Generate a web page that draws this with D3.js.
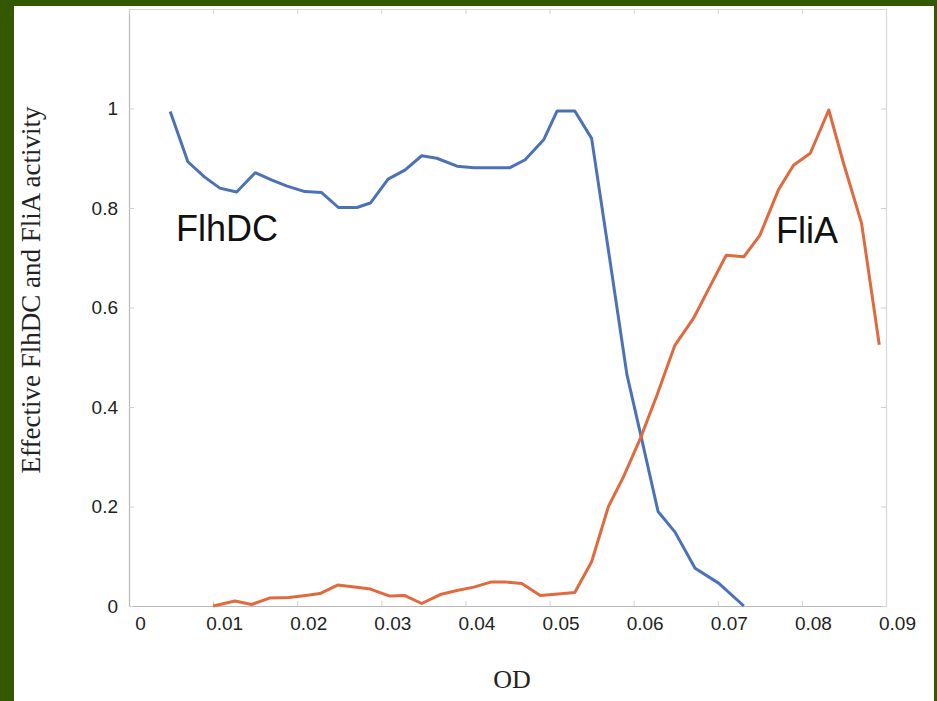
<!DOCTYPE html>
<html>
<head>
<meta charset="utf-8">
<script src="https://cdn.jsdelivr.net/npm/d3@7"></script>
<style>
  html, body { margin: 0; padding: 0; background: #335800; }
  svg { display: block; }
</style>
</head>
<body>
<div id="chart"></div>
<script>
// FlhDC activity vs OD
const flhdcOD = [0.0049, 0.0070, 0.0090, 0.0108, 0.0128, 0.0150, 0.0170, 0.0188, 0.0209, 0.0229,
                 0.0249, 0.0271, 0.0287, 0.0308, 0.0328, 0.0348, 0.0366, 0.0390, 0.0410, 0.0430,
                 0.0453, 0.0471, 0.0493, 0.0509, 0.0530, 0.0550, 0.0570, 0.0592, 0.0608, 0.0629,
                 0.0649, 0.0673, 0.0701, 0.0731];
const flhdcVal = [0.994, 0.893, 0.862, 0.840, 0.832, 0.871, 0.856, 0.844, 0.833, 0.831,
                  0.801, 0.801, 0.810, 0.858, 0.876, 0.905, 0.900, 0.884, 0.881, 0.881,
                  0.881, 0.897, 0.937, 0.995, 0.995, 0.940, 0.715, 0.465, 0.347, 0.190,
                  0.149, 0.076, 0.046, 0.000];

// FliA activity vs OD
const fliaOD = [0.0100, 0.0126, 0.0146, 0.0167, 0.0190, 0.0210, 0.0227, 0.0248, 0.0268, 0.0287,
                0.0310, 0.0328, 0.0348, 0.0370, 0.0390, 0.0410, 0.0430, 0.0449, 0.0467, 0.0489,
                0.0510, 0.0530, 0.0550, 0.0570, 0.0588, 0.0608, 0.0628, 0.0649, 0.0671, 0.0690,
                0.0710, 0.0731, 0.0750, 0.0772, 0.0790, 0.0810, 0.0832, 0.0849, 0.0871, 0.0892];
const fliaVal = [0.000, 0.010, 0.003, 0.016, 0.017, 0.021, 0.025, 0.042, 0.038, 0.034,
                 0.020, 0.021, 0.005, 0.023, 0.031, 0.038, 0.048, 0.048, 0.045, 0.021,
                 0.024, 0.027, 0.089, 0.200, 0.260, 0.337, 0.425, 0.524, 0.578, 0.640,
                 0.705, 0.702, 0.745, 0.836, 0.886, 0.910, 0.997, 0.893, 0.769, 0.525];

const xTicks = [0, 0.01, 0.02, 0.03, 0.04, 0.05, 0.06, 0.07, 0.08, 0.09];
const yTicks = [0, 0.2, 0.4, 0.6, 0.8, 1];

const width = 937, height = 701;

const svg = d3.select("#chart")
    .append("svg")
    .attr("width", width)
    .attr("height", height);

// green slide frame and white page
svg.append("rect").attr("width", width).attr("height", height).attr("fill", "#335800");
svg.append("rect").attr("x", 14).attr("y", 6).attr("width", 920).attr("height", 695).attr("fill", "#fff");

const x = d3.scaleLinear().domain([0, 0.09]).range([129, 886]);
const y = d3.scaleLinear().domain([0, 1.2]).range([606, 9]);

const fmt = d3.format("~g");

// bottom axis
const gx = svg.append("g")
    .attr("transform", `translate(0,${y(0)})`)
    .call(d3.axisBottom(x).tickValues(xTicks).tickFormat(fmt).tickSizeInner(-5).tickSizeOuter(0).tickPadding(11));
gx.selectAll("text").attr("dx", 11);

// left axis
const gy = svg.append("g")
    .attr("transform", `translate(${x(0)},0)`)
    .call(d3.axisLeft(y).tickValues(yTicks).tickFormat(fmt).tickSizeInner(-5).tickSizeOuter(0).tickPadding(11));

// mirrored top and right axes
const gt = svg.append("g")
    .attr("transform", `translate(0,${y(1.2)})`)
    .call(d3.axisTop(x).tickValues(xTicks).tickFormat("").tickSizeInner(-5).tickSizeOuter(0));
const gr = svg.append("g")
    .attr("transform", `translate(${x(0.09)},0)`)
    .call(d3.axisRight(y).tickValues(yTicks).tickFormat("").tickSizeInner(-5).tickSizeOuter(0));

svg.selectAll(".domain").attr("stroke", "#b8b8b8").attr("stroke-width", 1.2);
gt.selectAll(".domain").attr("stroke", "#d8d8d8");
gr.selectAll(".domain").attr("stroke", "#d8d8d8");
svg.selectAll(".tick line").attr("stroke", "#cfcfcf");
svg.selectAll(".tick text")
    .attr("font-family", "'Liberation Sans', Arial, sans-serif")
    .attr("font-size", 19)
    .attr("fill", "#222");

// lines
const line = d3.line()
    .x(d => x(d[0]))
    .y(d => y(d[1]));

svg.append("path")
    .datum(d3.zip(flhdcOD, flhdcVal))
    .attr("fill", "none")
    .attr("stroke", "#4c72b6")
    .attr("stroke-width", 3)
    .attr("stroke-linejoin", "round")
    .attr("d", line);

svg.append("path")
    .datum(d3.zip(fliaOD, fliaVal))
    .attr("fill", "none")
    .attr("stroke", "#e06a3e")
    .attr("stroke-width", 3)
    .attr("stroke-linejoin", "round")
    .attr("d", line);

// series labels
svg.append("text")
    .attr("x", 176).attr("y", 241)
    .attr("font-family", "'Liberation Sans', Arial, sans-serif")
    .attr("font-size", 36)
    .attr("fill", "#111")
    .text("FlhDC");

svg.append("text")
    .attr("x", 776).attr("y", 243)
    .attr("font-family", "'Liberation Sans', Arial, sans-serif")
    .attr("font-size", 36)
    .attr("fill", "#111")
    .text("FliA");

// axis titles
svg.append("text")
    .attr("x", 512).attr("y", 688)
    .attr("text-anchor", "middle")
    .attr("font-family", "'Liberation Serif', 'Times New Roman', serif")
    .attr("font-size", 26)
    .attr("fill", "#222")
    .text("OD");

svg.append("text")
    .attr("transform", "translate(40,290) rotate(-90)")
    .attr("text-anchor", "middle")
    .attr("font-family", "'Liberation Serif', 'Times New Roman', serif")
    .attr("font-size", 27)
    .attr("fill", "#222")
    .text("Effective FlhDC and FliA activity");
</script>
</body>
</html>
